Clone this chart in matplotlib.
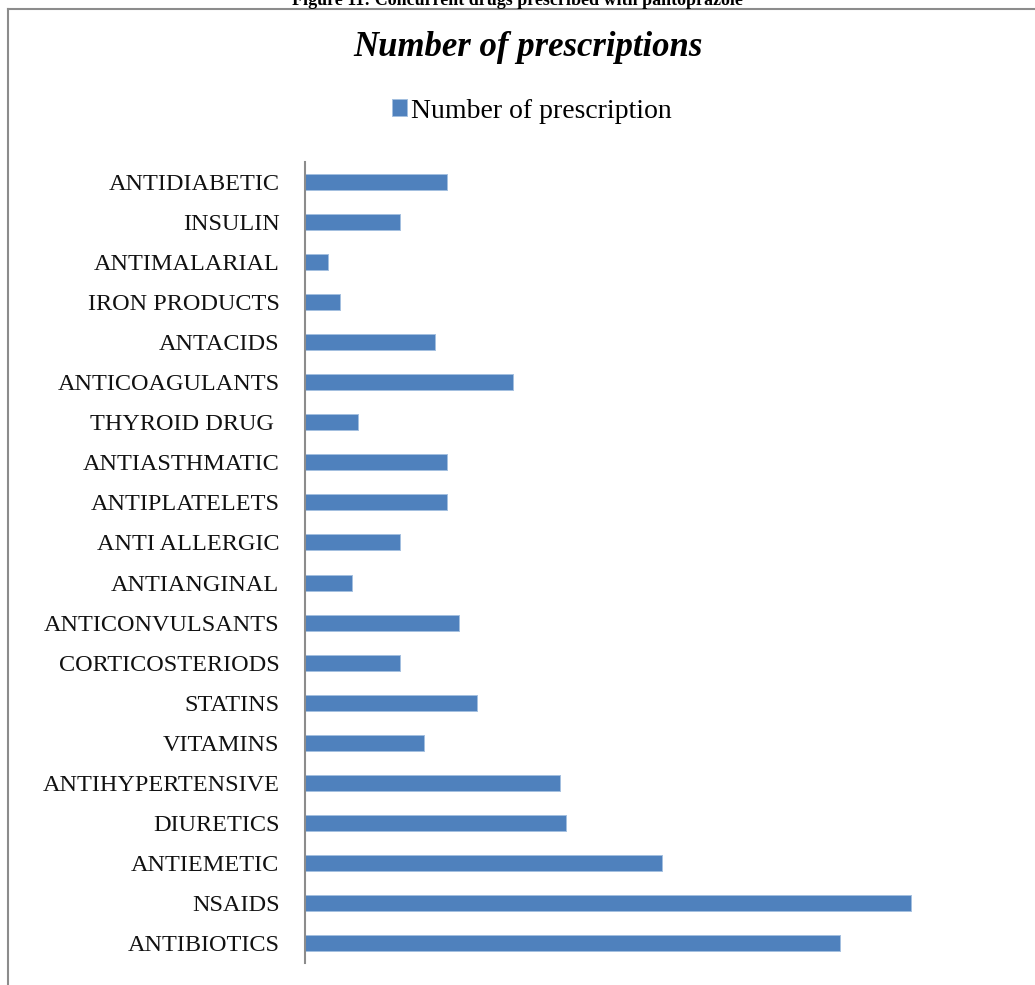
import matplotlib
matplotlib.use("Agg")
import matplotlib.pyplot as plt
from matplotlib.lines import Line2D

categories = ["ANTIDIABETIC", "INSULIN", "ANTIMALARIAL", "IRON PRODUCTS", "ANTACIDS",
              "ANTICOAGULANTS", "THYROID DRUG ", "ANTIASTHMATIC", "ANTIPLATELETS",
              "ANTI ALLERGIC", "ANTIANGINAL", "ANTICONVULSANTS", "CORTICOSTERIODS",
              "STATINS", "VITAMINS", "ANTIHYPERTENSIVE", "DIURETICS", "ANTIEMETIC",
              "NSAIDS", "ANTIBIOTICS"]
values = [24, 16, 4, 6, 22, 35, 9, 24, 24, 16, 8, 26, 16, 29, 20, 43, 44, 60, 102, 90]
series_name = "Number of prescription"
chart_title = "Number of prescriptions"
figure_caption = "Figure 11: Concurrent drugs prescribed with pantoprazole"

W, H = 1035, 985
fig = plt.figure(figsize=(W / 100, H / 100), dpi=100)
fig.patch.set_facecolor("white")

serif = ["Liberation Serif", "DejaVu Serif"]

ax_left, ax_right = 304.5, 1018.5
ax_top, ax_bottom = 162, 963
ax = fig.add_axes([ax_left / W, 1 - ax_bottom / H, (ax_right - ax_left) / W, (ax_bottom - ax_top) / H])

ypos = list(range(len(categories)))
bars = ax.barh(ypos, values, height=0.4, color="#4F81BD", edgecolor="#a3bfe0",
               linewidth=0.7, label=series_name)
ax.set_ylim(len(categories) - 0.5, -0.5)
ax.set_xlim(0, 120)
ax.set_yticks(ypos)
ax.set_yticklabels(categories, family=serif, fontsize=17.5, color="#111111")
ax.tick_params(axis="y", length=0, pad=18)
ax.set_xticks([])
for s in ["top", "right", "bottom"]:
    ax.spines[s].set_visible(False)
ax.spines["left"].set_color("#8c8c8c")
ax.spines["left"].set_linewidth(1.5)

# Title
fig.text(528 / W, 1 - 47 / H, chart_title, ha="center", va="center",
         family=serif, fontsize=25, fontweight="bold", fontstyle="italic", color="#000000")

# Legend
leg = fig.legend(handles=[bars], labels=[series_name], loc="center",
                 bbox_to_anchor=(532 / W, 1 - 111 / H), frameon=False,
                 prop={"family": serif, "size": 20}, handlelength=0.55, handleheight=0.55,
                 handletextpad=0.15, borderpad=0)

# Cut-off caption at top (partly hidden above the image edge, as in the reference)
fig.text(517 / W, 1 - 5 / H, figure_caption, ha="center", va="baseline",
         family=serif, fontsize=13, fontweight="bold", color="#000000")

# Chart frame (top and left visible)
fig.add_artist(Line2D([7.5 / W, 7.5 / W], [0, 1 - 9 / H], transform=fig.transFigure,
                      color="#8c8c8c", linewidth=1.5))
fig.add_artist(Line2D([7.5 / W, 1.0], [1 - 9 / H, 1 - 9 / H], transform=fig.transFigure,
                      color="#8c8c8c", linewidth=1.5))

fig.savefig("out.png", dpi=100, facecolor="white")
